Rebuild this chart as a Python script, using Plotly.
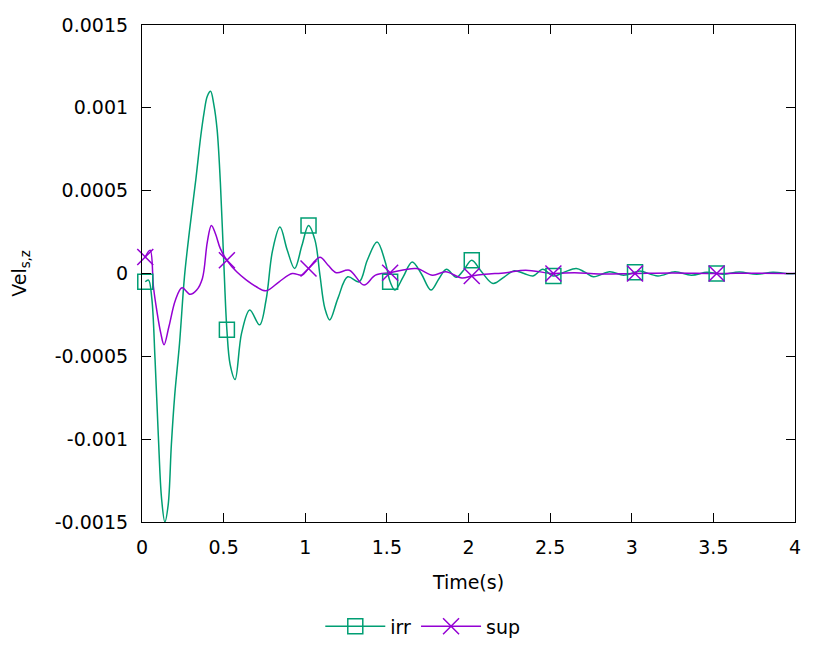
import plotly.graph_objects as go

# ---- data ----
irr_t = [0.02, 0.04, 0.06, 0.08, 0.10, 0.12, 0.14, 0.16, 0.18, 0.20, 0.23, 0.26, 0.29,
         0.33, 0.36, 0.38, 0.40, 0.42, 0.44, 0.46, 0.48, 0.50, 0.52, 0.54, 0.57, 0.61, 0.66,
         0.72, 0.76, 0.80, 0.845, 0.89, 0.935, 0.98, 1.02, 1.06, 1.09, 1.12, 1.15, 1.20,
         1.26, 1.33, 1.38, 1.44, 1.49, 1.52, 1.55, 1.60, 1.655, 1.71, 1.77, 1.82, 1.865,
         1.925, 1.97, 2.02, 2.08, 2.15, 2.22, 2.28, 2.34, 2.395, 2.455, 2.52, 2.59, 2.66,
         2.71, 2.765, 2.865, 2.95, 3.02, 3.05, 3.16, 3.265, 3.365, 3.46, 3.52, 3.56, 3.66,
         3.765, 3.865, 3.97, 4.0]
irr_v = [-0.00005, -0.00004, -0.00015, -0.00052, -0.00098, -0.00136, -0.00150, -0.00140,
         -0.00103, -0.00074, -0.00042, -0.00002, 0.00025, 0.00057, 0.00083, 0.00097,
         0.00107, 0.00110, 0.00102, 0.00087, 0.00055, 0.00009, -0.00034, -0.00055, -0.00064,
         -0.00036, -0.00022, -0.00031, -0.00016, 0.00014, 0.00028, 0.00014, 0.00003,
         0.00017, 0.00029, 0.00020, -0.00001, -0.00021, -0.00028, -0.00015, -0.00002,
         -0.00005, 0.00008, 0.00019, 0.00007, -0.00005, -0.00010, -0.00002, 0.00007,
         0.0, -0.00010, -0.00003, 0.000025, -0.000023, 0.00002, 0.00008, 0.00001,
         -0.00006, -0.00002, 0.000017, 0.0, -0.000015, 0.000025, -0.000015, 0.00001,
         0.00003, 0.00001, -0.00002, 0.00001, -0.00001, 0.000007, 0.000015, -0.000015,
         0.00001, -0.00001, 0.000007, 0.0, -0.000004, 0.000009, -0.000005, 0.000007,
         -0.000002, 0.0]

sup_t = [0.02, 0.05, 0.07, 0.09, 0.115, 0.135, 0.165, 0.205, 0.245, 0.295, 0.335, 0.37, 0.40,
         0.425, 0.45, 0.48, 0.52, 0.58, 0.64, 0.70, 0.76, 0.84, 0.92, 0.98, 1.02, 1.09, 1.14,
         1.19, 1.27, 1.36, 1.43, 1.52, 1.68, 1.78, 1.86, 1.96, 2.02, 2.10, 2.23, 2.35,
         2.52, 2.65, 2.80, 3.02, 3.25, 3.52, 3.75, 4.0]
sup_v = [0.00010, 0.00014, -0.00008, -0.00022, -0.00036, -0.00043, -0.00032, -0.00016,
         -0.000086, -0.000126, -0.00010, -0.00003, 0.00019, 0.00029, 0.00024, 0.00015,
         0.00008, 0.00001, -0.00004, -0.00008, -0.000104, -0.00005, 0.0, -0.00001, 0.00003,
         0.000098, 0.00005, 0.000005, 0.00002, -0.00007, -0.00001, 0.000005, 0.00003,
         -0.00001, 0.00001, -0.000027, -0.000015, -0.000005, 0.000005, 0.00002, 0.0,
         0.000005, -0.000003, 0.0, 0.000003, 0.0, 0.000002, 0.0]

marker_t = [0.02, 0.52, 1.02, 1.52, 2.02, 2.52, 3.02, 3.52]

x_ticks = [0, 0.5, 1, 1.5, 2, 2.5, 3, 3.5, 4]
x_ticktext = ["0", "0.5", "1", "1.5", "2", "2.5", "3", "3.5", "4"]
y_ticks = [-0.0015, -0.001, -0.0005, 0, 0.0005, 0.001, 0.0015]
y_ticktext = ["-0.0015", "-0.001", "-0.0005", "0", "0.0005", "0.001", "0.0015"]

IRR_COLOR = "#009E73"
SUP_COLOR = "#9400D3"


def at_markers(ts, vs):
    lookup = dict(zip(ts, vs))
    return [lookup[t] for t in marker_t]


fig = go.Figure()

# lines
fig.add_trace(go.Scatter(x=irr_t, y=irr_v, mode="lines", name="irr",
                         line=dict(color=IRR_COLOR, width=1.5, shape="spline", smoothing=1.0),
                         showlegend=False, hoverinfo="skip"))
fig.add_trace(go.Scatter(x=sup_t, y=sup_v, mode="lines", name="sup",
                         line=dict(color=SUP_COLOR, width=1.5, shape="spline", smoothing=1.0),
                         showlegend=False, hoverinfo="skip"))
# point markers
fig.add_trace(go.Scatter(x=marker_t, y=at_markers(irr_t, irr_v), mode="markers", name="irr",
                         cliponaxis=False,
                         marker=dict(symbol="square-open", size=15, color=IRR_COLOR, line=dict(width=1.5, color=IRR_COLOR)),
                         showlegend=False))
fig.add_trace(go.Scatter(x=marker_t, y=at_markers(sup_t, sup_v), mode="markers", name="sup",
                         cliponaxis=False,
                         marker=dict(symbol="x-thin-open", size=16, color=SUP_COLOR, line=dict(width=1.5, color=SUP_COLOR)),
                         showlegend=False))
# legend entries
fig.add_trace(go.Scatter(x=[None], y=[None], mode="lines+markers", name="irr",
                         line=dict(color=IRR_COLOR, width=1.5),
                         marker=dict(symbol="square-open", size=15, color=IRR_COLOR, line=dict(width=1.5, color=IRR_COLOR))))
fig.add_trace(go.Scatter(x=[None], y=[None], mode="lines+markers", name="sup",
                         line=dict(color=SUP_COLOR, width=1.5),
                         marker=dict(symbol="x-thin-open", size=16, color=SUP_COLOR, line=dict(width=1.5, color=SUP_COLOR))))

axis_common = dict(showline=True, linecolor="black", linewidth=1.2, mirror="ticks",
                   ticks="inside", ticklen=9, tickwidth=1.2, tickcolor="black",
                   showgrid=False, zeroline=False, automargin=False,
                   tickfont=dict(family="DejaVu Sans", size=19, color="black"))

# the page body adds an 8px offset, so the figure is sized to the remaining window
fig.update_layout(
    width=822, height=661,
    margin=dict(l=134, r=35, t=17, b=147),
    paper_bgcolor="white", plot_bgcolor="white",
    font=dict(family="DejaVu Sans", size=19, color="black"),
    xaxis=dict(range=[0, 4], tickvals=x_ticks, ticktext=x_ticktext,
               ticklabelstandoff=8,
               title=dict(text="Time(s)", standoff=18, font=dict(size=19)), **axis_common),
    yaxis=dict(range=[-0.0015, 0.0015], tickvals=y_ticks, ticktext=y_ticktext,
               ticklabelstandoff=9,
               title=dict(text="Vel<sub>s,z</sub>", standoff=26, font=dict(size=19)), **axis_common),
    legend=dict(orientation="h", x=0.43, xanchor="center", y=-0.21, yanchor="middle",
                font=dict(size=19), itemwidth=60, bgcolor="rgba(0,0,0,0)"),
    showlegend=True,
)

fig.write_html("out.html")
